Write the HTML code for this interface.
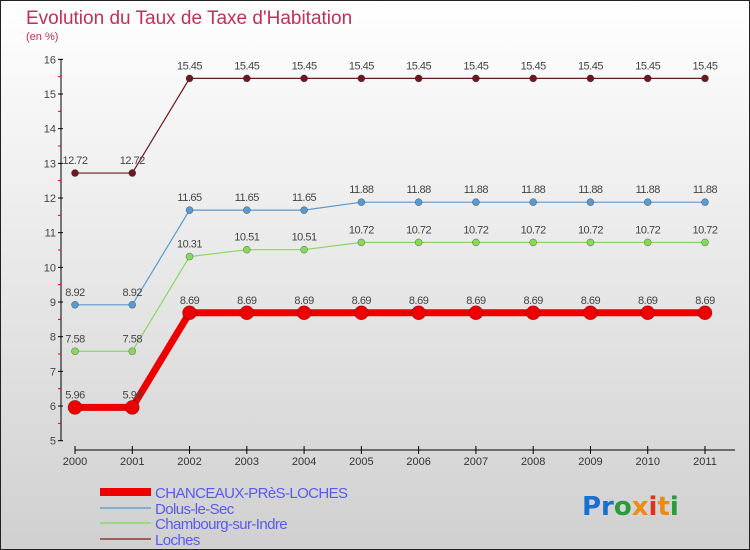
<!DOCTYPE html>
<html><head><meta charset="utf-8"><style>
body{margin:0;width:750px;height:550px;overflow:hidden;font-family:"Liberation Sans",sans-serif}
svg{display:block}
</style></head><body>
<svg width="750" height="550" xmlns="http://www.w3.org/2000/svg">
<defs><linearGradient id="bg" x1="0" y1="0" x2="0" y2="1"><stop offset="0" stop-color="#ffffff"/><stop offset="1" stop-color="#d0d0d0"/></linearGradient></defs>
<rect x="0.5" y="0.5" width="749" height="549" fill="url(#bg)" stroke="#222"/>
<text x="26" y="24" font-size="19" fill="#c0305a">Evolution du Taux de Taxe d'Habitation</text>
<text x="26" y="40" font-size="11" fill="#c0305a">(en %)</text>
<g id="axes"></g><g id="series"></g><g id="legend"></g>
<text x="582" y="515" font-size="26" font-weight="bold" font-family="'DejaVu Sans',sans-serif"><tspan fill="#1a6fd0">Pr</tspan><tspan fill="#2a9a3a">o</tspan><tspan fill="#f08a10">x</tspan><tspan fill="#e03020">i</tspan><tspan fill="#f08a10">t</tspan><tspan fill="#2a9a3a">i</tspan></text>
</svg>
<script>
const years=[2000,2001,2002,2003,2004,2005,2006,2007,2008,2009,2010,2011];
const yTicks=[5,6,7,8,9,10,11,12,13,14,15,16];
const chanceaux=[5.96,5.96,8.69,8.69,8.69,8.69,8.69,8.69,8.69,8.69,8.69,8.69];
const dolus=[8.92,8.92,11.65,11.65,11.65,11.88,11.88,11.88,11.88,11.88,11.88,11.88];
const chambourg=[7.58,7.58,10.31,10.51,10.51,10.72,10.72,10.72,10.72,10.72,10.72,10.72];
const loches=[12.72,12.72,15.45,15.45,15.45,15.45,15.45,15.45,15.45,15.45,15.45,15.45];
const names=["CHANCEAUX-PRèS-LOCHES","Dolus-le-Sec","Chambourg-sur-Indre","Loches"];
const NS="http://www.w3.org/2000/svg";
const X=i=>75+i*(705-75)/(years.length-1);
const Y=v=>440.7-(v-5)*34.67;
function mk(t,a,p){const e=document.createElementNS(NS,t);for(const k in a)e.setAttribute(k,a[k]);p.appendChild(e);return e;}
const ax=document.getElementById('axes');
let l=mk('line',{x1:61,y1:59,x2:61,y2:441,stroke:'#000','stroke-width':1},ax);


l=mk('line',{x1:75,y1:450,x2:735,y2:450,stroke:'#000','stroke-width':1},ax);


yTicks.forEach(v=>{
 mk('line',{x1:58,y1:Y(v),x2:63,y2:Y(v),stroke:'#000'},ax);
 if(v<16)mk('line',{x1:58,y1:Y(v+0.5),x2:61,y2:Y(v+0.5),stroke:'#e00'},ax);
 const t=mk('text',{x:56,y:Y(v)+4,'text-anchor':'end','font-size':11,fill:'#444'},ax);
 t.textContent=v;
 
 
});
years.forEach((y,i)=>{
 mk('line',{x1:X(i),y1:446,x2:X(i),y2:454,stroke:'#000'},ax);
 const t=mk('text',{x:X(i),y:465,'text-anchor':'middle','font-size':11,fill:'#333'},ax);
 t.textContent=y;
 
 
});
const sg=document.getElementById('series');
function series(vals,color,w,r,name,lblCol){
 const g=mk('g',{},sg);
 
 
 mk('polyline',{points:vals.map((v,i)=>X(i)+','+Y(v)).join(' '),fill:'none',stroke:color,'stroke-width':w},g);
 vals.forEach((v,i)=>{
  const c=mk('circle',{cx:X(i),cy:Y(v),r:r,fill:color,stroke:'rgba(0,0,0,0.4)','stroke-width':0.6},g);
  
  
  const t=mk('text',{x:X(i),y:Y(v)-9,'text-anchor':'middle','font-size':11,fill:'#444','letter-spacing':'-0.5'},g);
  t.textContent=v.toFixed(2);
  
  
 });
}
series(loches,'#6b1a20',1.2,3.5,'series-loches');
series(dolus,'#5a9ad0',1.2,3.5,'series-dolus');
series(chambourg,'#88d860',1.2,3.5,'series-chambourg');
series(chanceaux,'#ee0000',7,7,'series-chanceaux');
const lg=document.getElementById('legend');
const lc=['#ee0000','#80b0d0','#98d880','#a06060'],lw=[8,2,2,2],ly=[492,508,523,539];
names.forEach((n,i)=>{
 const g=mk('g',{},lg);
 
 
 mk('line',{x1:100,y1:ly[i],x2:151,y2:ly[i],stroke:lc[i],'stroke-width':lw[i]},g);
 const t=mk('text',{x:155,y:ly[i]+6,'font-size':15,fill:'#5a5af0','letter-spacing':'-0.6'},g);
 t.textContent=n;
});
</script>
</body></html>
